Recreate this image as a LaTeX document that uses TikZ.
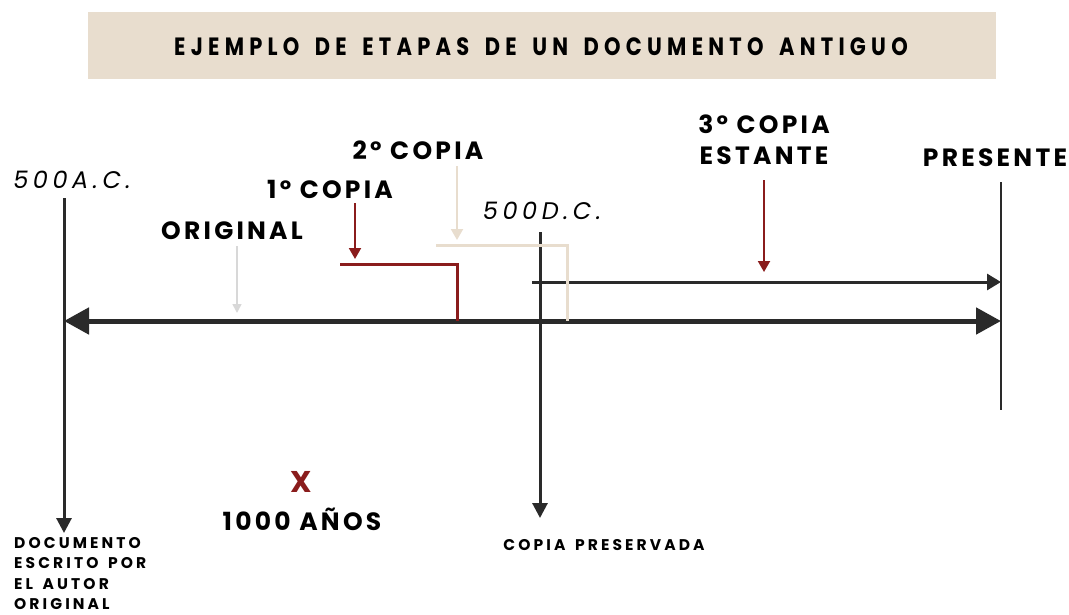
\documentclass[tikz,border=0pt]{standalone}
\usepackage{fontspec}
\setmainfont{Poppins}
\newfontfamily\titlefont{Poppins}[LetterSpace=21,FakeStretch=0.84,WordSpace=1.6]
\newfontfamily\notefont{Poppins}[LetterSpace=20,WordSpace=1.5]
\usetikzlibrary{arrows.meta}
\definecolor{lineblack}{HTML}{2A2A2A}
\definecolor{copyred}{HTML}{8A1C1C}
\definecolor{paper}{HTML}{E8DDCE}
\definecolor{oldgrey}{HTML}{D8D8D8}
\tikzset{mlabel/.style={font=\bfseries\fontsize{25}{31}\selectfont\addfontfeature{LetterSpace=13},align=center,inner sep=0pt}}
\tikzset{mdate/.style={font=\itshape\fontsize{24}{26}\selectfont\addfontfeature{LetterSpace=19},inner sep=0pt}}
\tikzset{mnote/.style={font=\notefont\bfseries\fontsize{15.5}{20.5}\selectfont,align=left,inner sep=0pt}}
\tikzset{mtime/.style={draw=lineblack,line width=3pt}}
\tikzset{mmark/.style={line width=2pt,-{Triangle[length=11pt,width=12pt]}}}
\begin{document}
\begin{tikzpicture}[x=1pt,y=-1pt]
\useasboundingbox (0,0) rectangle (1069,614);
\fill[paper] (88,12) rectangle (996,79);
\node[inner sep=0pt,font=\titlefont\bfseries\fontsize{25}{28}\selectfont] (title) at (541,47) {EJEMPLO DE ETAPAS DE UN DOCUMENTO ANTIGUO};

% linea principal
\coordinate (ac) at (64,321);
\coordinate (pres) at (1001,321);
\draw[lineblack,line width=5pt,{Triangle[length=25pt,width=26pt]}-{Triangle[length=25pt,width=26pt]}] (ac) -- (pres);

% verticales
\coordinate (ac top) at (64,198);
\coordinate (ac bot) at (64,533);
\draw[mtime,-{Triangle[length=15pt,width=15pt]}] (ac top) -- (ac bot);
\coordinate (pres top) at (1001,182);
\coordinate (pres bot) at (1001,410);
\draw[lineblack,line width=2.2pt] (pres top) -- (pres bot);
\coordinate (dc top) at (540,232);
\coordinate (dc bot) at (540,518);
\draw[mtime,-{Triangle[length=15pt,width=15pt]}] (dc top) -- (dc bot);

% copia estante
\coordinate (est start) at (532,282);
\coordinate (est end) at (1001,282);
\draw[lineblack,line width=3pt,-{Triangle[length=14pt,width=16pt]}] (est start) -- (est end);

% tramos de copias
\coordinate (c1 a) at (340,264);
\coordinate (c1 b) at (457,264);
\coordinate (c1 c) at (457,321);
\draw[copyred,line width=3pt] (c1 a) -- (c1 b) -- (c1 c);
\coordinate (c2 a) at (436,245);
\coordinate (c2 b) at (567,245);
\coordinate (c2 c) at (567,321);
\draw[paper,line width=3pt] (c2 a) -- (c2 b) -- (c2 c);

% etiquetas
\node[mdate] (acl) at (72,180) {500A.C.};
\node[mdate] (dcl) at (542,211) {500D.C.};
\node[mlabel] (presl) at (995,158) {PRESENTE};
\node[mlabel] (orig) at (232,231) {ORIGINAL};
\node[mlabel] (c1) at (330,189) {1º COPIA};
\node[mlabel] (c2) at (418,150) {2º COPIA};
\node[mlabel] (c3) at (764,140) {3º COPIA\\ESTANTE};

\coordinate (orig tip) at (237,313);
\draw[oldgrey,mmark,line width=1.6pt,-{Triangle[length=9pt,width=9pt]}] (237,246) -- (orig tip);
\coordinate (c1 tip) at (355,259);
\draw[copyred,mmark] (355,203) -- (c1 tip);
\coordinate (c2 tip) at (457,240);
\draw[paper,mmark] (457,166) -- (c2 tip);
\coordinate (c3 tip) at (764,272);
\draw[copyred,mmark] (764,180) -- (c3 tip);

\node[mlabel,copyred,font=\bfseries\fontsize{30}{30}\selectfont] (x) at (301,482) {X};
\node[mlabel] (anos) at (302,519) {1000 AÑOS};
\node[mnote,anchor=north west] (autor) at (14,537) {DOCUMENTO\\ESCRITO POR\\EL AUTOR\\ORIGINAL};
\node[mnote] (pres copy) at (604,545) {COPIA PRESERVADA};
\end{tikzpicture}
\end{document}
